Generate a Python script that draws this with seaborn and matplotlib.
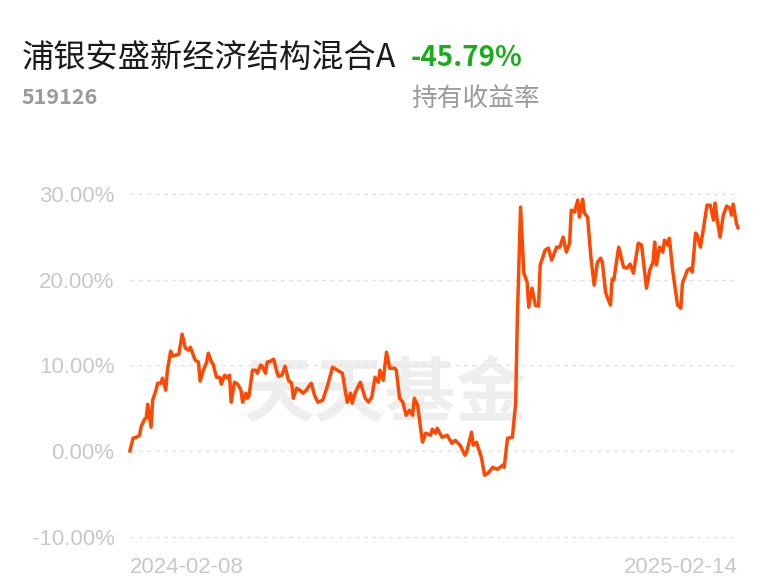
import pandas as pd
import matplotlib.pyplot as plt
import matplotlib.ticker as mticker
import seaborn as sns

# 基金信息
fund_name = "浦银安盛新经济结构混合A"
fund_code = "519126"
hold_return = "-45.79%"
hold_label = "持有收益率"
watermark = "天天基金"

start_date = "2024-02-08"
end_date = "2025-02-14"

# 距起始日的天数 / 累计收益率(%)
day_offset = [0, 2, 4, 6, 7, 9, 10, 11, 13, 14, 16, 17, 19, 20, 22, 23, 25, 26, 28, 30,
              32, 34, 36, 37, 40, 42, 43, 45, 47, 48, 50, 51, 53, 55, 56, 58, 60, 61, 62, 64,
              66, 68, 69, 71, 72, 73, 75, 77, 78, 80, 81, 83, 84, 86, 88, 90, 91, 93, 95, 97,
              99, 100, 102, 104, 106, 108, 110, 111, 113, 115, 118, 121, 124, 127, 129, 130, 133, 135, 136, 138,
              141, 144, 146, 148, 150, 152, 153, 155, 157, 159, 162, 163, 165, 167, 169, 171, 173, 174, 176, 179,
              181, 184, 185, 187, 188, 191, 194, 197, 199, 202, 205, 206, 209, 210, 212, 215, 217, 219, 222, 223,
              225, 228, 229, 231, 234, 236, 237, 239, 241, 243, 244, 246, 248, 250, 251, 254, 256, 258, 261, 263,
              265, 267, 269, 270, 272, 274, 275, 277, 278, 280, 282, 284, 286, 288, 289, 291, 292, 294, 295, 296,
              299, 302, 304, 306, 308, 311, 313, 316, 318, 320, 321, 322, 324, 326, 327, 329, 330, 332, 335, 337,
              338, 341, 343, 344, 346, 347, 349, 351, 353, 355, 357, 358, 359, 361, 363, 365, 367, 368, 369, 371,
              372]
returns = [0.00, 1.52, 1.63, 1.87, 2.92, 3.73, 3.85, 5.48, 2.80, 5.95, 7.12, 7.93, 7.93, 8.52, 7.12, 9.45, 11.67, 11.09, 11.20, 11.32,
           13.65, 12.02, 11.79, 12.14, 10.62, 10.39, 8.17, 9.45, 10.39, 11.44, 10.39, 10.15, 8.63, 8.63, 7.82, 8.87, 8.52, 8.87, 5.72, 8.05,
           7.82, 7.12, 5.72, 6.77, 6.18, 6.53, 9.45, 9.45, 9.10, 10.04, 9.92, 9.10, 10.39, 10.50, 10.74, 9.22, 8.75, 8.87, 9.92, 8.28,
           7.93, 6.18, 7.35, 7.12, 6.77, 7.12, 7.70, 7.93, 6.53, 5.72, 5.95, 7.70, 9.80, 9.45, 9.22, 9.10, 5.72, 6.77, 5.60, 6.88,
           8.05, 6.18, 5.72, 6.30, 8.63, 8.05, 9.45, 8.28, 11.55, 9.68, 9.68, 9.45, 6.18, 5.72, 4.20, 4.78, 4.20, 6.18, 5.37, 1.05,
           2.10, 1.87, 2.57, 2.10, 2.68, 1.63, 1.87, 0.93, 1.28, 0.70, -0.47, -0.12, 2.22, 0.70, 1.05, -0.70, -2.80, -2.57, -1.87, -1.98,
           -2.10, -1.63, -1.87, 1.52, 1.63, 5.60, 15.29, 28.47, 20.77, 19.72, 16.80, 19.02, 17.04, 16.92, 21.70, 23.45, 23.69, 22.29, 23.80, 23.80,
           24.97, 23.22, 24.27, 28.12, 27.89, 29.29, 27.30, 29.40, 27.77, 27.30, 22.64, 19.37, 22.05, 22.52, 22.05, 18.55, 17.97, 17.04, 20.07, 19.95,
           23.80, 21.47, 21.35, 21.82, 20.77, 24.27, 24.04, 19.02, 21.12, 22.05, 24.39, 21.70, 23.80, 23.22, 24.62, 24.04, 24.85, 21.12, 17.04, 16.69,
           19.60, 21.12, 21.35, 20.89, 25.44, 25.20, 23.80, 26.14, 28.70, 28.70, 26.95, 28.94, 27.30, 24.97, 27.54, 28.59, 28.35, 27.54, 28.82, 26.60,
           26.02]

y_ticks = [-10, 0, 10, 20, 30]

df = pd.DataFrame({
    "date": pd.Timestamp(start_date) + pd.to_timedelta(day_offset, unit="D"),
    "ret": returns,
})

sns.set_theme(style="white")
plt.rcParams["font.family"] = ["Liberation Sans", "Noto Sans CJK SC", "DejaVu Sans"]
cjk = ["Noto Sans CJK SC", "DejaVu Sans"]

fig = plt.figure(figsize=(7.68, 5.87), dpi=100)
ax = fig.add_axes([0.169, 0.0852, 0.792, 0.5843])

# 水印
ax.text(0.42, 0.415, watermark, transform=ax.transAxes, ha="center", va="center",
        fontsize=51, fontweight="bold", color="#eeeeee", family=cjk, zorder=0)

for v in y_ticks:
    ax.axhline(v, color="#e2e2e2", lw=1.0, ls=(0, (3, 3)), zorder=1)

sns.lineplot(data=df, x="date", y="ret", ax=ax, color="#ff4800", lw=2.5, zorder=3)
for ln in ax.lines:
    ln.set_clip_on(False)
    ln.set_solid_joinstyle("round")

ax.set_xlim(pd.Timestamp(start_date), pd.Timestamp(end_date))
ax.set_ylim(-10, 30)
ax.set_yticks(y_ticks)
ax.yaxis.set_major_formatter(mticker.FuncFormatter(lambda v, p: f"{v:.2f}%"))
ax.tick_params(axis="y", length=0, pad=11, labelsize=16, labelcolor="#c8c8c8")
ax.set_xticks([])
ax.set_xlabel("")
ax.set_ylabel("")
for s in ax.spines.values():
    s.set_visible(False)

# 日期标签
ax.text(0, -0.058, start_date, transform=ax.transAxes, ha="left", va="top",
        fontsize=16, color="#c8c8c8")
ax.text(1, -0.058, end_date, transform=ax.transAxes, ha="right", va="top",
        fontsize=16, color="#c8c8c8")

# 标题区
fig.text(0.028, 0.901, fund_name, ha="left", va="center", fontsize=23.2,
         color="#1a1a1a", family=cjk)
fig.text(0.535, 0.901, hold_return, ha="left", va="center", fontsize=20,
         color="#1aad1a", fontweight="semibold", family=cjk)
fig.text(0.028, 0.834, fund_code, ha="left", va="center", fontsize=15.5,
         color="#9a9a9a", fontweight="semibold", family=cjk)
fig.text(0.535, 0.832, hold_label, ha="left", va="center", fontsize=18.5,
         color="#9a9a9a", family=cjk)

fig.savefig("out.png", dpi=100)
